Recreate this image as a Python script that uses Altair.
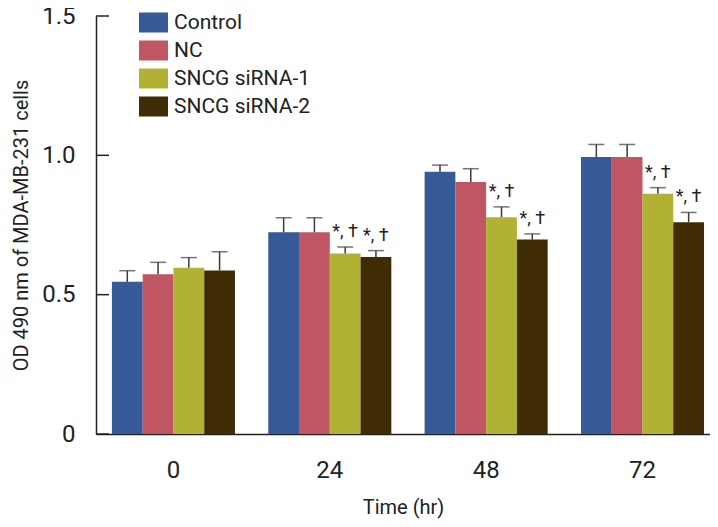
import altair as alt
import pandas as pd

times = ["0", "24", "48", "72"]
groups = ["Control", "NC", "SNCG siRNA-1", "SNCG siRNA-2"]
colors = ["#365a97", "#c05563", "#b1b233", "#402c04"]

control = [0.546, 0.724, 0.941, 0.994]
control_err = [0.040, 0.052, 0.024, 0.045]
nc = [0.573, 0.724, 0.904, 0.994]
nc_err = [0.043, 0.052, 0.048, 0.045]
si1 = [0.597, 0.648, 0.778, 0.862]
si1_err = [0.036, 0.023, 0.037, 0.022]
si2 = [0.587, 0.635, 0.698, 0.760]
si2_err = [0.067, 0.023, 0.020, 0.035]
si1_note = ["", "*, †", "*, †", "*, †"]
si2_note = ["", "*, †", "*, †", "*, †"]
y_ticks = [0, 0.5, 1.0, 1.5]

rows = []
for g, vals, errs, notes in [
    ("Control", control, control_err, [""] * 4),
    ("NC", nc, nc_err, [""] * 4),
    ("SNCG siRNA-1", si1, si1_err, si1_note),
    ("SNCG siRNA-2", si2, si2_err, si2_note),
]:
    for t, v, e, n in zip(times, vals, errs, notes):
        rows.append({"time": t, "group": g, "value": v, "upper": v + e, "note": n})
df = pd.DataFrame(rows)
ticks_df = pd.DataFrame({"tick": y_ticks})

FONT = "Roboto, sans-serif"

x_enc = alt.X(
    "time:N",
    sort=times,
    title="Time (hr)",
    scale=alt.Scale(paddingInner=0.213, paddingOuter=0.07, align=0.727),
    axis=alt.Axis(labelAngle=0, ticks=False, labelPadding=24, titlePadding=15,
                  labelFontSize=24, titleFontSize=20, domainColor="#222",
                  domainWidth=1.5, labelColor="#222", titleColor="#222",
                  labelFont=FONT, titleFont=FONT, titleFontWeight="normal"),
)
xoff = alt.XOffset("group:N", sort=groups, scale=alt.Scale(paddingInner=0, paddingOuter=0))
y_scale = alt.Scale(domain=[0, 1.5], nice=False, zero=True)

base = alt.Chart(df)

bars = base.mark_bar().encode(
    x=x_enc,
    xOffset=xoff,
    y=alt.Y("value:Q", scale=y_scale, title="OD 490 nm of MDA-MB-231 cells",
            axis=alt.Axis(values=y_ticks, ticks=False, grid=False, labelPadding=21,
                          labelFontSize=24, titleFontSize=20, titlePadding=10,
                          labelExpr="datum.value == 0 ? '0' : format(datum.value, '.1f')",
                          domainColor="#222", domainWidth=1.5, labelColor="#222",
                          titleColor="#222", labelFont=FONT, titleFont=FONT,
                          titleFontWeight="normal")),
    color=alt.Color("group:N", sort=groups, scale=alt.Scale(domain=groups, range=colors),
                    legend=alt.Legend(orient="none", legendX=47, legendY=-4, title=None,
                                      symbolType="M-1.45,-1L1.45,-1L1.45,1L-1.45,1Z",
                                      symbolSize=400, symbolStrokeWidth=0,
                                      labelFontSize=21, labelFont=FONT, labelColor="#222",
                                      labelOffset=10, rowPadding=6, padding=0)),
)

err_rule = base.mark_rule(color="#3a3a3a", strokeWidth=1.5).encode(
    x=alt.X("time:N", sort=times), xOffset=xoff,
    y=alt.Y("value:Q", scale=y_scale), y2="upper:Q",
)
err_cap = base.mark_tick(color="#3a3a3a", thickness=1.5, size=16).encode(
    x=alt.X("time:N", sort=times), xOffset=xoff,
    y=alt.Y("upper:Q", scale=y_scale),
)
notes = base.mark_text(fontSize=18, font=FONT, color="#222", baseline="bottom", dy=-6).encode(
    x=alt.X("time:N", sort=times), xOffset=xoff,
    y=alt.Y("upper:Q", scale=y_scale),
    text="note:N",
)
yticks = alt.Chart(ticks_df).mark_rule(color="#222", strokeWidth=1.5).encode(
    y=alt.Y("tick:Q", scale=y_scale),
    x=alt.value(0), x2=alt.value(13),
)

chart = alt.layer(bars, err_rule, err_cap, notes, yticks).properties(
    width=614, height=418,
    autosize=alt.AutoSizeParams(type="none"),
    padding={"left": 88, "top": 8, "right": 0, "bottom": 85},
).configure_view(stroke=None).configure_axis(grid=False)

chart.save("out.html", embed_options={"renderer": "svg", "actions": False})
